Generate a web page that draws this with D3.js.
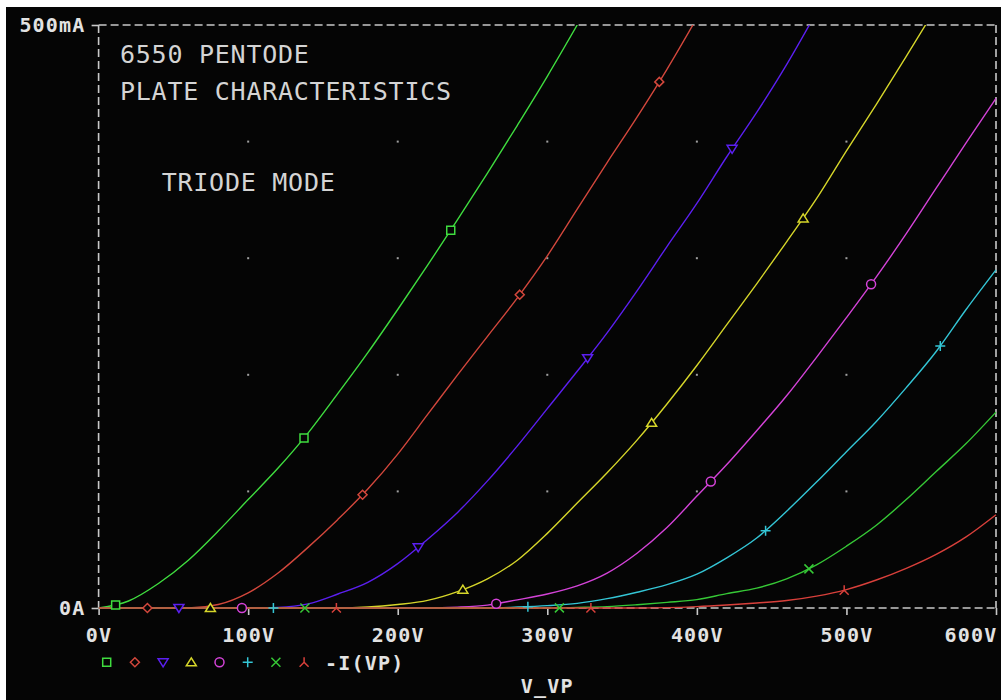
<!DOCTYPE html>
<html>
<head>
<meta charset="utf-8">
<script src="https://cdn.jsdelivr.net/npm/d3@7"></script>
<style>
  html, body { margin: 0; padding: 0; background: #ffffff; }
  svg { display: block; }
</style>
</head>
<body>
<svg id="chart" width="1001" height="700"></svg>
<script>
// Plate voltage sweep (V)
const volts = [0, 20, 40, 60, 80, 100, 120, 140, 160, 180, 200, 220, 240, 260, 280, 300,
               320, 340, 360, 380, 400, 420, 440, 460, 480, 500, 520, 540, 560, 580, 600];

// Plate current -I(VP) in mA for each grid-bias step (null once the trace has left the screen)
const ia1 = [0, 6, 21, 41, 66, 93, 120, 150, 184, 219, 256, 294, 333, 373, 414, 456, 500, 545];
const ia2 = [0, 0, 0, 0, 3, 13, 30, 52, 76, 102, 132, 166, 200, 233, 266, 302, 342, 382, 421, 462, 506];
const ia3 = [0, 0, 0, 0, 0, 0, 0.5, 3.5, 12, 22, 38, 59, 82, 109, 139, 171, 203, 236, 272, 310, 347, 387, 425, 466, 511];
const ia4 = [0, 0, 0, 0, 0, 0, 0, 0, 0, 0.8, 3, 6.5, 14, 25, 41, 64, 90, 116, 144, 175, 208, 243, 278, 314, 351, 392, 432, 473, 515];
const ia5 = [0, 0, 0, 0, 0, 0, 0, 0, 0, 0, 0, 0, 0.7, 2.5, 7, 12, 19, 30, 47, 69, 96, 123, 152, 182, 215, 249, 284, 321, 360, 399, 437];
const ia6 = [0, 0, 0, 0, 0, 0, 0, 0, 0, 0, 0, 0, 0, 0, 0.8, 2, 4, 8, 13.5, 20, 29, 43, 60, 83, 108, 134, 160, 189, 220, 256, 290];
const ia7 = [0, 0, 0, 0, 0, 0, 0, 0, 0, 0, 0, 0, 0, 0, 0, 0, 0.5, 1.2, 2.8, 4.8, 7.2, 12.3, 17, 25, 37, 53, 71, 93, 117, 141, 168];
const ia8 = [0, 0, 0, 0, 0, 0, 0, 0, 0, 0, 0, 0, 0, 0, 0, 0, 0, 0, 0, 0.3, 1.2, 2.6, 4.3, 6.4, 10.2, 15.8, 24, 34, 46, 61, 80];

const seriesColors = ["#3fdc3f", "#d2473c", "#5b1ff0", "#d6d62a", "#d443d8", "#34c6d6", "#36c836", "#d9403b"];

// Axis ticks and labels
const xTicks = [0, 100, 200, 300, 400, 500, 600];
const yTicks = [0, 500];
const yTickLabels = ["0A", "500mA"];
const gridVolts = [100, 200, 300, 400, 500];
const gridAmps = [100, 200, 300, 400];

const titleLines = ["6550 PENTODE", "PLATE CHARACTERISTICS"];
const noteText = "TRIODE MODE";
const legendText = "-I(VP)";
const xTitle = "V_VP";

// Marker glyphs, one per trace
const markerPaths = [
  "M-4,-4H4V4H-4Z",                                  // square
  "M0,-4.5L4.5,0L0,4.5L-4.5,0Z",                     // diamond
  "M-5,-3.5H5L0,4.5Z",                               // triangle down
  "M0,-4.5L5,3.5H-5Z",                               // triangle up
  "M4.5,0A4.5,4.5 0 1,1 -4.5,0A4.5,4.5 0 1,1 4.5,0Z",// circle
  "M-5,0H5M0,-5V5",                                  // plus
  "M-4.5,-4.5L4.5,4.5M4.5,-4.5L-4.5,4.5",            // cross
  "M0,-5V0M0,0L-4.5,4.5M0,0L4.5,4.5"                 // tripod
];

const series = [ia1, ia2, ia3, ia4, ia5, ia6, ia7, ia8];

const W = 1001, H = 700;
const BG = "#050505";
const FRAME = "#c8c8c8";
const TEXT = "#e2e2e2";

const svg = d3.select("#chart");

svg.append("rect")
  .attr("x", 6).attr("y", 7)
  .attr("width", W - 6).attr("height", H - 7)
  .attr("fill", BG);

const x = d3.scaleLinear().domain([0, 600]).range([98.6, 996]);
const y = d3.scaleLinear().domain([0, 500]).range([608, 25]);

const [x0, x1] = x.range();
const [yBottom, yTop] = y.range();

// Dotted grid: a single dot at each grid intersection
const dots = svg.append("g");
gridVolts.forEach(v => gridAmps.forEach(a => {
  dots.append("rect")
    .attr("x", x(v) - 1).attr("y", y(a) - 1)
    .attr("width", 2).attr("height", 2)
    .attr("fill", "#a0a0a0");
}));

// Dashed plot frame
const frame = svg.append("g")
  .attr("stroke", FRAME).attr("stroke-width", 1.6)
  .attr("stroke-dasharray", "8,4").attr("fill", "none");
frame.append("line").attr("x1", x0).attr("x2", x1).attr("y1", yTop).attr("y2", yTop);
frame.append("line").attr("x1", x1).attr("x2", x1).attr("y1", yTop).attr("y2", yBottom);
frame.append("line").attr("x1", x0).attr("x2", x0).attr("y1", yTop).attr("y2", yBottom);
frame.append("line").attr("x1", x0).attr("x2", x1).attr("y1", yBottom).attr("y2", yBottom);

// Axes
function styleAxis(g) {
  g.select(".domain").remove();
  g.selectAll(".tick line").attr("stroke", FRAME).attr("stroke-width", 1.6);
  g.selectAll(".tick text")
    .attr("fill", TEXT)
    .style("font-family", "'DejaVu Sans Mono', monospace")
    .style("font-weight", "bold")
    .style("font-size", "20px")
    .style("letter-spacing", "1.2px");
}

const xAxisG = svg.append("g")
  .attr("transform", `translate(0,${yBottom})`)
  .call(d3.axisBottom(x).tickValues(xTicks).tickFormat(d => d + "V").tickSize(7).tickPadding(12.5))
  .call(styleAxis);

// The last voltage label sits flush against the right edge of the frame
xAxisG.selectAll(".tick text")
  .filter(d => d === xTicks[xTicks.length - 1])
  .attr("text-anchor", "end")
  .attr("x", 1);

svg.append("g")
  .attr("transform", `translate(${x0},0)`)
  .call(d3.axisLeft(y).tickValues(yTicks).tickFormat((d, i) => yTickLabels[i]).tickSize(7).tickPadding(6))
  .call(styleAxis);

// Traces
svg.append("defs").append("clipPath").attr("id", "plotClip")
  .append("rect")
  .attr("x", x0).attr("y", yTop)
  .attr("width", x1 - x0 + 1).attr("height", yBottom - yTop + 3);

const line = d3.line()
  .defined(d => d[1] != null)
  .x(d => x(d[0]))
  .y(d => y(d[1]))
  .curve(d3.curveMonotoneX);

const traces = svg.append("g").attr("clip-path", "url(#plotClip)");
const paths = series.map((arr, i) =>
  traces.append("path")
    .datum(volts.map((v, k) => [v, arr[k]]))
    .attr("d", line)
    .attr("fill", "none")
    .attr("stroke", seriesColors[i])
    .attr("stroke-width", 1.4)
    .node()
);

// Markers are spaced evenly along each trace, staggered between traces
const markerStep = 254.5, markerStart = 17.3, markerStagger = 31.5;
const markers = svg.append("g");
paths.forEach((node, i) => {
  const total = node.getTotalLength();
  for (let s = markerStart + markerStagger * i; s <= total; s += markerStep) {
    const p = node.getPointAtLength(s);
    if (p.y < yTop - 1 || p.x > x1 + 1) continue;
    markers.append("path")
      .attr("transform", `translate(${p.x},${p.y})`)
      .attr("d", markerPaths[i])
      .attr("fill", BG)
      .attr("stroke", seriesColors[i])
      .attr("stroke-width", 1.5);
  }
});

// Legend row
const legend = svg.append("g");
seriesColors.forEach((c, i) => {
  legend.append("path")
    .attr("transform", `translate(${106.7 + 28.2 * i},662.3)`)
    .attr("d", markerPaths[i])
    .attr("fill", BG)
    .attr("stroke", c)
    .attr("stroke-width", 1.5);
});

const boldText = sel => sel
  .attr("fill", TEXT)
  .style("font-family", "'DejaVu Sans Mono', monospace")
  .style("font-weight", "bold")
  .style("font-size", "20px")
  .style("letter-spacing", "1.2px");

legend.append("text").attr("x", 325).attr("y", 670).text(legendText).call(boldText);

svg.append("text")
  .attr("x", (x0 + x1) / 2).attr("y", 693)
  .attr("text-anchor", "middle")
  .text(xTitle).call(boldText);

// Annotations inside the plot
const noteStyle = sel => sel
  .attr("fill", "#d4d4d4")
  .style("font-family", "'DejaVu Sans Mono', monospace")
  .style("font-size", "25px")
  .style("letter-spacing", "0.75px");

svg.append("text").attr("x", 120).attr("y", 63.3).text(titleLines[0]).call(noteStyle);
svg.append("text").attr("x", 120).attr("y", 100).text(titleLines[1]).call(noteStyle);
svg.append("text").attr("x", 161.7).attr("y", 191).text(noteText).call(noteStyle);
</script>
</body>
</html>
